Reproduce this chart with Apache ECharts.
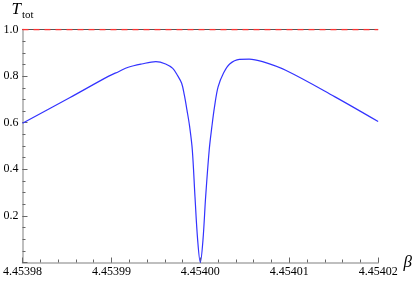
<!DOCTYPE html>
<html>
<head>
<meta charset="utf-8">
<script src="https://cdn.jsdelivr.net/npm/echarts@6/dist/echarts.min.js"></script>
<style>html,body{margin:0;padding:0;background:#fff}#c{width:415px;height:282px}</style>
</head>
<body>
<div id="c"></div>
<script>
// beta values (x) and total transmission T_tot (y)
var betaValues = [4.45398, 4.4539853, 4.4539897, 4.4539908, 4.4539919, 4.4539934, 4.453995, 4.4539961, 4.4539969, 4.4539974, 4.4539979, 4.4539982, 4.4539985, 4.4539988, 4.4539991, 4.4539994, 4.4539997, 4.45400, 4.4540003, 4.4540006, 4.454001, 4.4540013, 4.4540016, 4.454002, 4.4540026, 4.4540033, 4.4540044, 4.4540055, 4.454007, 4.4540096, 4.4540151, 4.45402];
var tTot = [0.598, 0.707, 0.800, 0.819, 0.838, 0.852, 0.862, 0.852, 0.833, 0.805, 0.769, 0.719, 0.654, 0.583, 0.483, 0.282, 0.097, 0.0, 0.097, 0.282, 0.483, 0.583, 0.669, 0.754, 0.812, 0.852, 0.872, 0.873, 0.862, 0.825, 0.712, 0.605];
var refX = [4.45398, 4.45402];
var refY = [1.0, 1.0];
var xTicks = ['4.45398', '4.45399', '4.45400', '4.45401', '4.45402'];
var yTicks = ['0.2', '0.4', '0.6', '0.8', '1.0'];

var curve = betaValues.map(function (b, i) { return [b, tTot[i]]; });
var ref = refX.map(function (b, i) { return [b, refY[i]]; });

var chart = echarts.init(document.getElementById('c'), null, {renderer: 'canvas'});
var serif = '"Liberation Serif", "Times New Roman", serif';
var tickColor = '#666';
function tickAxis(kind, offset, interval, len) {
  var a = {
    type: 'value', offset: offset, interval: interval,
    axisLine: {show: false}, axisLabel: {show: false}, splitLine: {show: false},
    axisTick: {show: true, inside: false, length: len, lineStyle: {color: tickColor, width: 1}}
  };
  if (kind === 'x') { a.position = 'bottom'; a.min = 4.45398; a.max = 4.45402; }
  else { a.position = 'left'; a.min = 0; a.max = 1; }
  return a;
}
chart.setOption({
  animation: false,
  backgroundColor: '#fff',
  grid: {left: 22, right: 30.4, top: 29.5, bottom: 19.5, containLabel: false},
  xAxis: [{
    type: 'value', min: 4.45398, max: 4.45402, interval: 0.00001,
    name: 'β', nameLocation: 'end', nameGap: 20,
    nameTextStyle: {fontFamily: serif, fontStyle: 'italic', fontSize: 17, color: '#000', verticalAlign: 'middle', padding: [0,0,6,0]},
    axisLine: {show: true, lineStyle: {color: '#aaa', width: 1.5}},
    axisTick: {show: false},
    splitLine: {show: false},
    axisLabel: {
      fontFamily: serif, fontSize: 12, color: '#000', margin: 3,
      formatter: function (v) {
        var idx = Math.round((v - 4.45398) / 0.00001);
        return xTicks[idx] !== undefined ? xTicks[idx] : '';
      }
    }
  }, tickAxis('x', -5, 0.00001, 5), tickAxis('x', -3, 0.000002, 3)],
  yAxis: [{
    type: 'value', min: 0, max: 1, interval: 0.2,
    name: '{t|T}{s|tot}', nameLocation: 'end', nameGap: 11,
    nameTextStyle: {
      rich: {
        t: {fontFamily: serif, fontStyle: 'italic', fontSize: 17, color: '#000', verticalAlign: 'bottom'},
        s: {fontFamily: serif, fontSize: 11, color: '#000', verticalAlign: 'bottom', padding: [0,0,-2,1]}
      }
    },
    axisLine: {show: true, lineStyle: {color: '#aaa', width: 1.5}},
    axisTick: {show: false},
    splitLine: {show: false},
    axisLabel: {
      fontFamily: serif, fontSize: 12, color: '#000', margin: 4,
      formatter: function (v) {
        var idx = Math.round(v / 0.2) - 1;
        return idx >= 0 && yTicks[idx] !== undefined ? yTicks[idx] : '';
      }
    }
  }, tickAxis('y', -5, 0.2, 5), tickAxis('y', -3, 0.05, 3)],
  series: [
    {type: 'line', data: ref, symbol: 'none', lineStyle: {color: '#555', width: 1.2}, z: 3},
    {type: 'line', data: ref, symbol: 'none', lineStyle: {color: '#ff3333', width: 1.5, type: [6, 5]}, z: 4},
    {type: 'line', data: curve, symbol: 'none', smooth: 0.35, lineStyle: {color: '#3333ff', width: 1.2}, z: 5}
  ]
});
</script>
</body>
</html>
